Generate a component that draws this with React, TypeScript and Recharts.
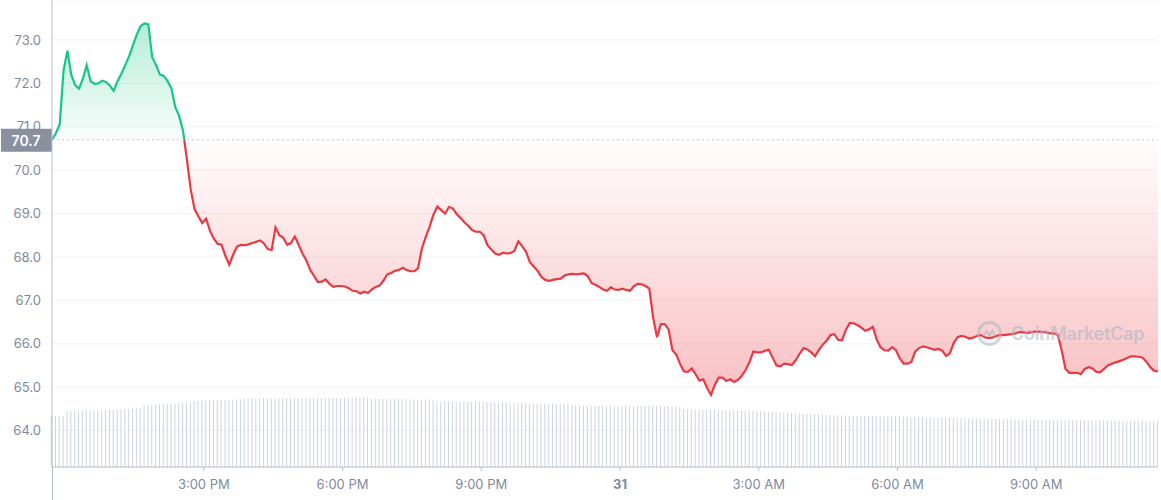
import React from "react";
import {
  ComposedChart, Area, Bar, XAxis, YAxis, CartesianGrid, ReferenceLine,
} from "recharts";

// 5-minute samples, first one at 11:43 AM on the 30th (minutes since midnight)
const START_MINUTE = 703;
const STEP_MINUTES = 5;
const OPEN_PRICE = 70.7;

const PRICE = [
  70.7, 70.85, 71.05, 72.3, 72.75, 72.2, 71.96, 71.88, 72.1, 72.42,
  72.05, 71.99, 72.0, 72.06, 72.03, 71.95, 71.83, 72.05, 72.22, 72.42,
  72.62, 72.88, 73.12, 73.32, 73.38, 73.36, 72.6, 72.42, 72.2, 72.17,
  72.05, 71.88, 71.45, 71.25, 70.9, 70.25, 69.55, 69.1, 68.93, 68.78,
  68.88, 68.6, 68.42, 68.3, 68.28, 68.02, 67.82, 68.05, 68.24, 68.28,
  68.27, 68.29, 68.32, 68.35, 68.38, 68.31, 68.18, 68.16, 68.68, 68.5,
  68.44, 68.28, 68.32, 68.47, 68.28, 68.08, 67.92, 67.7, 67.56, 67.42,
  67.43, 67.48, 67.38, 67.31, 67.33, 67.33, 67.32, 67.28, 67.22, 67.21,
  67.16, 67.2, 67.17, 67.25, 67.31, 67.34, 67.45, 67.6, 67.63, 67.68,
  67.7, 67.75, 67.7, 67.67, 67.67, 67.74, 68.2, 68.46, 68.7, 68.98,
  69.16, 69.08, 69.0, 69.15, 69.12, 68.99, 68.9, 68.8, 68.72, 68.62,
  68.58, 68.58, 68.5, 68.27, 68.17, 68.08, 68.05, 68.1, 68.08, 68.09,
  68.14, 68.36, 68.25, 68.12, 67.88, 67.78, 67.68, 67.54, 67.47, 67.45,
  67.47, 67.49, 67.5, 67.57, 67.6, 67.61, 67.6, 67.61, 67.62, 67.56,
  67.4, 67.36, 67.31, 67.25, 67.22, 67.3, 67.25, 67.24, 67.27, 67.24,
  67.22, 67.33, 67.38, 67.37, 67.33, 67.27, 66.6, 66.15, 66.45, 66.45,
  66.33, 65.85, 65.75, 65.53, 65.36, 65.35, 65.43, 65.3, 65.15, 65.18,
  64.98, 64.82, 65.05, 65.22, 65.22, 65.14, 65.18, 65.12, 65.17, 65.26,
  65.4, 65.58, 65.82, 65.8, 65.8, 65.84, 65.86, 65.68, 65.5, 65.48,
  65.54, 65.53, 65.51, 65.62, 65.77, 65.9, 65.87, 65.8, 65.71, 65.86,
  65.98, 66.07, 66.2, 66.22, 66.09, 66.08, 66.32, 66.48, 66.47, 66.43,
  66.37, 66.3, 66.33, 66.39, 66.1, 65.92, 65.85, 65.84, 65.92, 65.85,
  65.66, 65.54, 65.54, 65.58, 65.82, 65.9, 65.94, 65.92, 65.89, 65.86,
  65.88, 65.84, 65.72, 65.78, 66.02, 66.15, 66.18, 66.16, 66.12, 66.14,
  66.18, 66.2, 66.15, 66.13, 66.14, 66.18, 66.2, 66.2, 66.21, 66.22,
  66.24, 66.27, 66.26, 66.25, 66.26, 66.28, 66.28, 66.27, 66.26, 66.24,
  66.24, 66.2, 65.85, 65.42, 65.33, 65.33, 65.33, 65.3, 65.42, 65.46,
  65.43, 65.35, 65.34, 65.42, 65.5, 65.54, 65.57, 65.6, 65.63, 65.67,
  65.71, 65.71, 65.7, 65.68, 65.58, 65.46, 65.38, 65.36,
];

// 24h volume, millions
const VOLUME = [
  510, 510, 511, 511,
  560, 561, 562, 563, 564, 565, 566, 567, 568, 569, 570, 572, 573, 575, 577, 579, 581, 583, 586, 590,
  618, 620, 622, 624, 626, 628, 630, 632, 634, 636, 638, 640, 642,
  660, 662, 664, 665, 666, 667, 668, 669, 670, 671, 672, 673, 675,
  686, 686, 687, 687, 687, 688, 688, 688, 688, 689, 689, 689, 689, 689, 689,
  690, 690, 690, 690, 690, 690, 691, 691, 691, 691, 691, 692, 692, 693,
  697, 698, 698, 697,
  684, 683, 682, 681, 681, 680, 679, 678, 677, 677, 676, 675, 675, 674, 673, 672, 670,
  655, 655, 654, 654, 654, 653, 653, 653, 652, 652, 652, 651, 651, 651, 650, 650, 650, 649, 648,
  638, 637, 637, 637, 636, 636, 636, 635, 635, 635, 634, 634, 634, 633, 633, 632,
  615, 615, 614, 614, 614, 613, 613, 613, 613, 612, 612, 612, 612, 611, 611,
  611, 611, 610, 610, 610, 609, 609, 609, 608, 608, 607, 606, 605, 604,
  580, 578, 577, 576, 575, 574, 573, 572, 571, 570, 569, 568, 567, 566,
  565, 564, 562, 561, 560, 558, 557, 556, 555, 553, 552, 550, 548,
  540, 538, 536, 535, 533, 531, 530, 528, 526, 524, 522, 520, 518, 516, 514,
  512, 511, 511, 510, 510, 509, 509, 508, 508, 507, 507, 506, 506, 505, 505, 504,
  503, 502, 501, 500, 499, 498, 497, 497, 496, 495, 494, 493, 492,
  491, 490, 489, 488, 487, 486, 485, 484, 483, 482, 481, 480, 479,
  477, 476, 476, 475, 475, 474, 474, 473, 473, 472, 472, 471, 471, 470, 470, 469, 469, 468, 468, 467,
  467, 466, 466, 465, 465, 464, 464, 463, 463, 462, 462, 461, 461, 460, 460, 459, 458, 457, 456, 455,
];

const X_TICKS = [900, 1080, 1260, 1440, 1620, 1800, 1980];
const X_TICK_LABELS = ["3:00 PM", "6:00 PM", "9:00 PM", "31", "3:00 AM", "6:00 AM", "9:00 AM"];
const Y_TICKS = [64, 65, 66, 67, 68, 69, 70, 71, 72, 73];

const GREEN = "#16c784";
const RED = "#ea3943";
const TEXT = "#808a9d";
const FONT = "Inter, 'Noto Sans', sans-serif";

const data = PRICE.map((price, i) => ({
  t: START_MINUTE + i * STEP_MINUTES,
  price,
  volume: VOLUME[i],
}));

const maxPrice = Math.max(...PRICE);
const minPrice = Math.min(...PRICE);
const splitOffset = (maxPrice - OPEN_PRICE) / (maxPrice - minPrice);

const XTick = (props: any) => {
  const { x, y, payload } = props;
  const label = X_TICK_LABELS[X_TICKS.indexOf(payload.value)] ?? "";
  return (
    <text x={x} y={y} dy="0.71em" textAnchor="middle" fill={TEXT}
      fontSize={13} fontFamily={FONT} fontWeight={label === "31" ? 700 : 400}>
      {label}
    </text>
  );
};

const PriceTag = (props: any) => {
  const vb = props.viewBox;
  if (!vb) return null;
  return (
    <g>
      <rect x={vb.x - 51} y={vb.y - 11} width={51} height={23} fill="#8a909e" />
      <text x={vb.x - 26} y={vb.y + 1} dy="0.35em" textAnchor="middle" fill="#fff"
        fontSize={14} fontWeight={600} fontFamily={FONT}>
        {OPEN_PRICE.toFixed(1)}
      </text>
    </g>
  );
};

export default function App() {
  return (
    <div style={{ position: "absolute", left: 0, top: 0, width: 1161, height: 500, background: "#fff", fontFamily: FONT }}>
      <ComposedChart width={1161} height={500} data={data} margin={{ top: 0, right: 3, bottom: 0, left: 0 }}>
        <defs>
          <linearGradient id="lineSplit" x1="0" y1="0" x2="0" y2="1">
            <stop offset={splitOffset} stopColor={GREEN} />
            <stop offset={splitOffset} stopColor={RED} />
          </linearGradient>
          <linearGradient id="fillSplit" x1="0" y1="0" x2="0" y2="1">
            <stop offset={0} stopColor={GREEN} stopOpacity={0.32} />
            <stop offset={splitOffset} stopColor={GREEN} stopOpacity={0.03} />
            <stop offset={splitOffset} stopColor={RED} stopOpacity={0.01} />
            <stop offset={1} stopColor={RED} stopOpacity={0.32} />
          </linearGradient>
        </defs>
        <CartesianGrid yAxisId="price" vertical={false} stroke="#f2f3f5" />
        <XAxis
          dataKey="t" type="number" domain={[START_MINUTE, START_MINUTE + (PRICE.length - 1) * STEP_MINUTES]}
          ticks={X_TICKS} tick={<XTick />} height={33}
          axisLine={{ stroke: "#b8bec8" }} tickLine={{ stroke: "#b8bec8" }} tickSize={4} tickMargin={9}
          interval={0}
        />
        <YAxis
          yAxisId="price" domain={[63.16, 73.92]} ticks={Y_TICKS} allowDataOverflow width={52}
          tickFormatter={(v: number) => v.toFixed(1)} tickLine={false} tickSize={0} tickMargin={11}
          axisLine={{ stroke: "#b8bec8" }}
          tick={{ fill: TEXT, fontSize: 13, fontFamily: FONT }}
        />
        <YAxis yAxisId="vol" hide domain={[0, 4670]} />
        <Bar yAxisId="vol" dataKey="volume" fill="#cdd3df" barSize={1} isAnimationActive={false} />
        <Area
          yAxisId="price" type="linear" dataKey="price" baseValue={OPEN_PRICE}
          stroke="url(#lineSplit)" strokeWidth={2.2} fill="url(#fillSplit)" fillOpacity={1}
          dot={false} activeDot={false} isAnimationActive={false}
        />
        <ReferenceLine yAxisId="price" y={OPEN_PRICE} stroke="#c4c8d0" strokeDasharray="2 3" label={<PriceTag />} />
      </ComposedChart>
      <div style={{ position: "absolute", left: 52, top: 467, width: 1, height: 33, background: "#b8bec8" }} />
      <div style={{ position: "absolute", left: 976, top: 320, display: "flex", alignItems: "center", opacity: 0.55, pointerEvents: "none" }}>
        <svg width={27} height={27} viewBox="0 0 28 28">
          <circle cx={14} cy={14} r={11.5} fill="none" stroke="#a9b3c6" strokeWidth={3} />
          <path d="M8 17 L11 11 L14 16 L17 11 L20 17" fill="none" stroke="#a9b3c6" strokeWidth={2.2} />
        </svg>
        <span style={{ marginLeft: 8, fontSize: 18, fontWeight: 600, color: "#a9b3c6", letterSpacing: -0.2, whiteSpace: "nowrap" }}>CoinMarketCap</span>
      </div>
    </div>
  );
}
